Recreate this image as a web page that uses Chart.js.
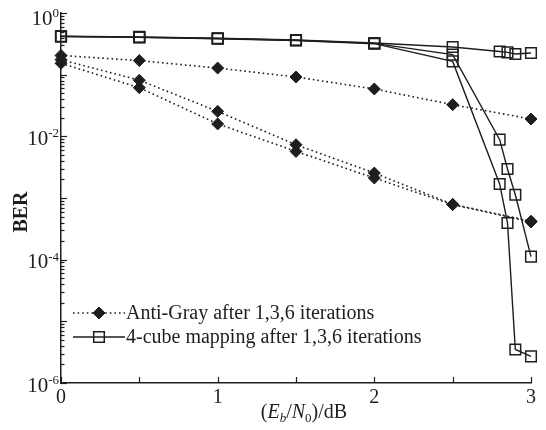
<!DOCTYPE html>
<html>
<head>
<meta charset="utf-8">
<script src="https://cdn.jsdelivr.net/npm/chart.js@4.4.0/dist/chart.umd.min.js"></script>
<style>
html, body { margin: 0; padding: 0; background: #fff; }
</style>
</head>
<body>
<canvas id="berChart" width="546" height="430"></canvas>
<script>
// Eb/N0 (dB) sample points
const ebn0 = [0, 0.5, 1, 1.5, 2, 2.5, 3];
const cubeEbn0 = [0, 0.5, 1, 1.5, 2, 2.5, 2.8, 2.85, 2.9, 3];

// Anti-Gray BER after 1, 3, 6 iterations
const antiGray1 = [0.205, 0.169, 0.128, 0.0917, 0.0586, 0.0326, 0.0191];
const antiGray3 = [0.175, 0.0813, 0.0254, 0.00731, 0.00254, 0.00079, 0.00042];
const antiGray6 = [0.153, 0.0615, 0.0159, 0.0057, 0.00211, 0.00078, 0.00041];

// 4-cube mapping BER after 1, 3, 6 iterations
const cube1 = [0.42, 0.41, 0.39, 0.365, 0.326, 0.281, 0.238, 0.230, 0.216, 0.225];
const cube3 = [0.418, 0.405, 0.386, 0.361, 0.322, 0.211, 0.00883, 0.00295, 0.00113, 0.000112];
const cube6 = [0.416, 0.402, 0.383, 0.358, 0.318, 0.164, 0.00169, 0.000394, 0.0000035, 0.0000027];

const xTickValues = [0, 0.5, 1, 1.5, 2, 2.5, 3];
const xTickLabels = [0, 1, 2, 3];
const yExponents = [0, -2, -4, -6];
const legendLabels = ['Anti-Gray after 1,3,6 iterations', '4-cube mapping after 1,3,6 iterations'];

const ink = '#1e1e1e';
const serif = '"Liberation Serif", "Times New Roman", serif';

function antiGraySet(label, values) {
    return {
        label: label,
        data: ebn0.map((x, i) => ({ x: x, y: values[i] })),
        borderColor: ink,
        borderWidth: 1.6,
        borderDash: [1.6, 3],
        pointStyle: 'rectRot',
        pointRadius: 6,
        pointBackgroundColor: ink,
        pointBorderColor: ink,
        pointBorderWidth: 1,
        tension: 0,
        clip: false
    };
}

function cubeSet(label, values) {
    return {
        label: label,
        data: cubeEbn0.map((x, i) => ({ x: x, y: values[i] })),
        borderColor: ink,
        borderWidth: 1.4,
        pointStyle: 'rect',
        pointRadius: 7.5,
        pointBackgroundColor: 'rgba(255,255,255,0)',
        pointBorderColor: ink,
        pointBorderWidth: 1.5,
        tension: 0,
        clip: false
    };
}

function drawParts(ctx, parts, cx, baseY) {
    let total = 0;
    parts.forEach(p => { ctx.font = p.font; total += ctx.measureText(p.t).width; });
    let x = cx - total / 2;
    ctx.textAlign = 'left';
    ctx.textBaseline = 'alphabetic';
    parts.forEach(p => {
        ctx.font = p.font;
        ctx.fillText(p.t, x, baseY + (p.dy || 0));
        x += ctx.measureText(p.t).width;
    });
}

// ticks pointing inward, tick labels with superscripts, axis titles and the legend
const axisDecor = {
    id: 'axisDecor',
    afterDraw(chart) {
        const ctx = chart.ctx;
        const xs = chart.scales.x;
        const ys = chart.scales.y;
        const area = chart.chartArea;
        ctx.save();
        ctx.strokeStyle = ink;
        ctx.fillStyle = ink;
        ctx.lineWidth = 1.2;

        xTickValues.forEach(v => {
            const px = Math.round(xs.getPixelForValue(v)) + 0.5;
            ctx.beginPath();
            ctx.moveTo(px, area.bottom);
            ctx.lineTo(px, area.bottom - 6);
            ctx.stroke();
        });
        for (let e = -6; e <= 0; e++) {
            for (let m = 1; m <= 9; m++) {
                const v = m * Math.pow(10, e);
                if (v > 1) break;
                const py = Math.round(ys.getPixelForValue(v)) + 0.5;
                ctx.beginPath();
                ctx.moveTo(area.left, py);
                ctx.lineTo(area.left + (m === 1 ? 6 : 3.5), py);
                ctx.stroke();
            }
        }

        ctx.font = '20px ' + serif;
        ctx.textAlign = 'center';
        ctx.textBaseline = 'middle';
        xTickLabels.forEach(v => {
            ctx.fillText(String(v), xs.getPixelForValue(v), area.bottom + 15);
        });

        yExponents.forEach(e => {
            const py = ys.getPixelForValue(Math.pow(10, e));
            const ey = Math.max(py, area.top + 3);
            ctx.font = '13px ' + serif;
            ctx.textAlign = 'left';
            ctx.textBaseline = 'top';
            const expText = String(e);
            const ew = ctx.measureText(expText).width;
            const baseRight = area.left - 2 - ew;
            ctx.fillText(expText, baseRight, ey - 9);
            ctx.font = '21px ' + serif;
            ctx.textAlign = 'right';
            ctx.textBaseline = 'middle';
            ctx.fillText('10', baseRight, ey + 3);
        });

        ctx.save();
        ctx.translate(22, (area.top + area.bottom) / 2 + 14);
        ctx.rotate(-Math.PI / 2);
        ctx.font = 'bold 20px ' + serif;
        ctx.textAlign = 'center';
        ctx.textBaseline = 'middle';
        ctx.fillText('BER', 0, 0);
        ctx.restore();

        const reg = '20px ' + serif;
        const ital = 'italic 20px ' + serif;
        drawParts(ctx, [
            { t: '(', font: reg },
            { t: 'E', font: ital },
            { t: 'b', font: 'italic 13px ' + serif, dy: 4 },
            { t: '/', font: reg },
            { t: 'N', font: ital },
            { t: '0', font: '13px ' + serif, dy: 4 },
            { t: ')/dB', font: reg }
        ], (area.left + area.right) / 2 + 8, area.bottom + 35);

        // legend: one entry per mapping, sample line with its marker
        const rows = [chart.data.datasets[0], chart.data.datasets[3]];
        rows.forEach((ds, i) => {
            const y = 313 + i * 24;
            ctx.save();
            ctx.strokeStyle = ink;
            ctx.lineWidth = ds.borderWidth;
            ctx.setLineDash(ds.borderDash || []);
            ctx.beginPath();
            ctx.moveTo(73, y);
            ctx.lineTo(125, y);
            ctx.stroke();
            ctx.setLineDash([]);
            ctx.fillStyle = ds.pointBackgroundColor;
            ctx.lineWidth = ds.pointBorderWidth;
            Chart.helpers.drawPoint(ctx, {
                pointStyle: ds.pointStyle,
                radius: ds.pointRadius,
                borderWidth: ds.pointBorderWidth,
                rotation: 0
            }, 99, y);
            ctx.restore();
            ctx.font = '20px ' + serif;
            ctx.textAlign = 'left';
            ctx.textBaseline = 'middle';
            ctx.fillText(legendLabels[i], 126, y + 1);
        });
        ctx.restore();
    }
};

new Chart(document.getElementById('berChart').getContext('2d'), {
    type: 'line',
    data: {
        datasets: [
            antiGraySet('Anti-Gray 1', antiGray1),
            antiGraySet('Anti-Gray 3', antiGray3),
            antiGraySet('Anti-Gray 6', antiGray6),
            cubeSet('4-cube 1', cube1),
            cubeSet('4-cube 3', cube3),
            cubeSet('4-cube 6', cube6)
        ]
    },
    options: {
        responsive: false,
        animation: false,
        devicePixelRatio: 1,
        layout: { padding: { left: 61, right: 15, top: 13, bottom: 47 } },
        plugins: { legend: { display: false }, tooltip: { enabled: false } },
        scales: {
            x: {
                type: 'linear',
                min: 0,
                max: 3,
                ticks: { display: false },
                grid: { display: false, drawTicks: false },
                border: { display: true, color: ink, width: 1.5 }
            },
            y: {
                type: 'logarithmic',
                min: 1e-6,
                max: 1,
                ticks: { display: false },
                grid: { display: false, drawTicks: false },
                border: { display: true, color: ink, width: 1.5 }
            }
        }
    },
    plugins: [axisDecor]
});
</script>
</body>
</html>
